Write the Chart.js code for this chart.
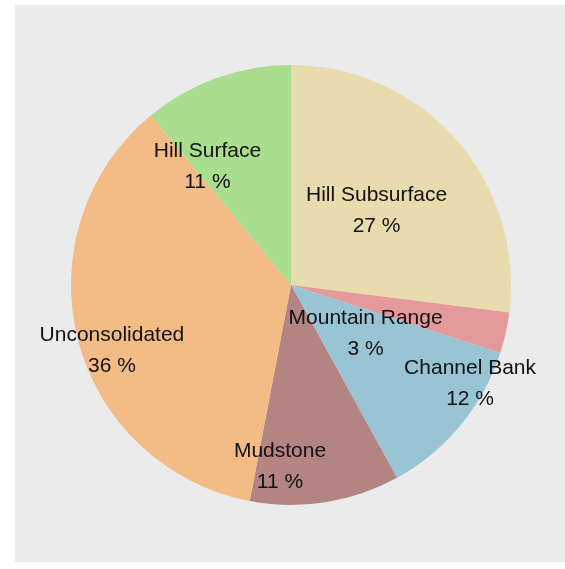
<!DOCTYPE html>
<html>
<head>
<meta charset="utf-8">
<script src="https://cdn.jsdelivr.net/npm/chart.js@4"></script>
<style>
  html, body { margin: 0; padding: 0; background: #ffffff; }
  #panel { position: absolute; left: 15px; top: 5px; width: 550px; height: 557px; background: #ebebeb; }
  #grafikPie { display: block; }
</style>
</head>
<body>
<div id="panel"><canvas id="grafikPie" width="550" height="557"></canvas></div>
<script>
// Slices in drawing order, clockwise from 12 o'clock
const categories = ["Hill Subsurface", "Mountain Range", "Channel Bank", "Mudstone", "Unconsolidated", "Hill Surface"];
const percents = [27, 3, 12, 11, 36, 11];
const sliceColors = ["#e8dbae", "#e49a9a", "#99c4d4", "#b38481", "#f3bb86", "#aade8f"];

// Label anchors as fractions of the radius from the pie centre (x, y)
const labelAnchors = [
  [0.389, -0.336],
  [0.339, 0.222],
  [0.814, 0.448],
  [-0.050, 0.828],
  [-0.814, 0.299],
  [-0.380, -0.538],
];

const sliceLabels = {
  id: "sliceLabels",
  afterDatasetsDraw(chart) {
    const ctx = chart.ctx;
    const arcs = chart.getDatasetMeta(0).data;
    ctx.save();
    ctx.fillStyle = "#111111";
    ctx.font = "21px 'Liberation Sans', Arial, sans-serif";
    ctx.textAlign = "center";
    ctx.textBaseline = "middle";
    arcs.forEach((arc, i) => {
      const r = arc.outerRadius;
      const x = arc.x + labelAnchors[i][0] * r;
      const y = arc.y + labelAnchors[i][1] * r;
      ctx.fillText(categories[i], x, y - 15.5);
      ctx.fillText(percents[i] + " %", x, y + 15.5);
    });
    ctx.restore();
  },
};

const ctx = document.getElementById("grafikPie").getContext("2d");
new Chart(ctx, {
  type: "pie",
  data: {
    labels: categories,
    datasets: [
      {
        data: percents,
        backgroundColor: sliceColors,
        borderWidth: 0,
      },
    ],
  },
  options: {
    responsive: false,
    animation: false,
    layout: { padding: { left: 56, right: 54, top: 57, bottom: 54 } },
    plugins: {
      legend: { display: false },
      tooltip: { enabled: false },
    },
  },
  plugins: [sliceLabels],
});
</script>
</body>
</html>
